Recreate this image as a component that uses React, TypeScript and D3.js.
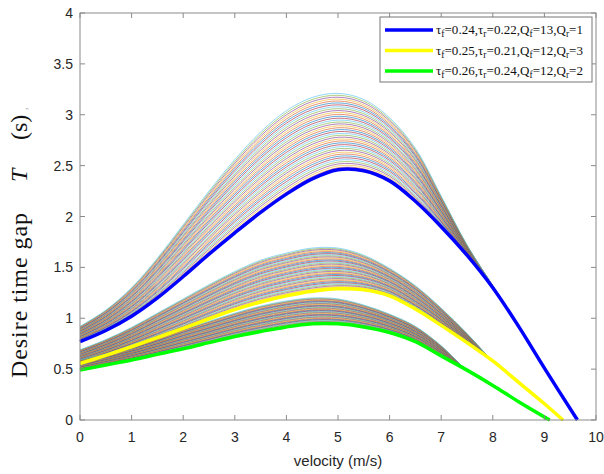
import React from "react";
import * as d3 from "d3";

// ---- data ----
const velocity = [0, 0.5, 1, 1.5, 2, 2.5, 3, 3.5, 4, 4.5, 5, 5.5, 6, 6.5, 7, 7.5, 8, 8.5, 9];

const blueThick = [0.77, 0.88, 1.02, 1.2, 1.41, 1.63, 1.84, 2.04, 2.22, 2.37, 2.46, 2.45, 2.35, 2.15, 1.9, 1.62, 1.3, 0.92, 0.51];
const blueTop = [0.92, 1.08, 1.3, 1.59, 1.92, 2.25, 2.56, 2.83, 3.04, 3.17, 3.21, 3.15, 2.97, 2.67, 2.2, 1.72, 1.32, 0.92, 0.51];
const blueZero = 9.64;

const yellowThick = [0.555, 0.635, 0.72, 0.81, 0.9, 0.995, 1.085, 1.16, 1.22, 1.265, 1.29, 1.28, 1.22, 1.09, 0.93, 0.76, 0.58, 0.37, 0.16];
const yellowTop = [0.69, 0.79, 0.91, 1.05, 1.19, 1.33, 1.46, 1.57, 1.64, 1.69, 1.69, 1.62, 1.49, 1.32, 1.1, 0.85, 0.58, 0.37, 0.16];
const yellowZero = 9.36;

const greenThick = [0.49, 0.54, 0.59, 0.645, 0.7, 0.76, 0.82, 0.87, 0.915, 0.945, 0.945, 0.915, 0.86, 0.77, 0.63, 0.49, 0.34, 0.18, 0.03];
const greenTop = [0.59, 0.65, 0.72, 0.8, 0.89, 0.97, 1.05, 1.12, 1.17, 1.2, 1.19, 1.13, 1.04, 0.92, 0.73, 0.49, 0.34, 0.18, 0.03];
const greenZero = 9.1;

const legendParams = [
  { tf: "0.24", tr: "0.22", qf: "13", qr: "1" },
  { tf: "0.25", tr: "0.21", qf: "12", qr: "3" },
  { tf: "0.26", tr: "0.24", qf: "12", qr: "2" },
];

const xTicks = [0, 1, 2, 3, 4, 5, 6, 7, 8, 9, 10];
const yTicks = [0, 0.5, 1, 1.5, 2, 2.5, 3, 3.5, 4];

const matlabColors = ["#0072BD", "#D95319", "#EDB120", "#7E2F8E", "#77AC30", "#4DBEEE", "#A2142F"];
const thickColors = ["#0000FF", "#FFFF00", "#00FF00"];
const bundleCount = 40;

// ---- layout ----
const W = 604, H = 474;
const left = 80, right = 596, top = 13, bottom = 420;

export default function App() {
  const x = d3.scaleLinear().domain([0, 10]).range([left, right]);
  const y = d3.scaleLinear().domain([0, 4]).range([bottom, top]);
  const line = d3
    .line<[number, number]>()
    .x((d) => x(d[0]))
    .y((d) => y(d[1]))
    .curve(d3.curveCatmullRom.alpha(0.5));

  const groups = [
    { thick: blueThick, top: blueTop, zero: blueZero },
    { thick: yellowThick, top: yellowTop, zero: yellowZero },
    { thick: greenThick, top: greenTop, zero: greenZero },
  ];

  const pts = (vals: number[], zero: number): [number, number][] => [
    ...velocity.map((v, i) => [v, vals[i]] as [number, number]),
    [zero, 0],
  ];

  const thin: JSX.Element[] = [];
  groups.forEach((g, gi) => {
    for (let k = 0; k <= bundleCount; k++) {
      const vals = g.thick.map((b, i) => b + ((g.top[i] - b) * k) / bundleCount);
      thin.push(
        <path
          key={`t${gi}-${k}`}
          d={line(pts(vals, g.zero)) || ""}
          fill="none"
          stroke={matlabColors[k % matlabColors.length]}
          strokeWidth={0.6}
        />
      );
    }
  });

  const axisColor = "#8a8a8a";
  const textColor = "#262626";
  const tickLen = 5;
  const serif = "'Liberation Serif', 'Times New Roman', serif";

  return (
    <svg
      width={W}
      height={H}
      style={{ position: "absolute", left: 0, top: 0, background: "#fff" }}
      xmlns="http://www.w3.org/2000/svg"
    >
      <rect x={0} y={0} width={W} height={H} fill="#fff" />
      {thin}
      {groups.map((g, gi) => (
        <path
          key={`k${gi}`}
          d={line(pts(g.thick, g.zero)) || ""}
          fill="none"
          stroke={thickColors[gi]}
          strokeWidth={3.5}
        />
      ))}

      {/* axes box */}
      <rect x={left} y={top} width={right - left} height={bottom - top} fill="none" stroke={axisColor} strokeWidth={1} />
      {xTicks.map((t) => (
        <g key={`xt${t}`}>
          <line x1={x(t)} x2={x(t)} y1={bottom} y2={bottom - tickLen} stroke={axisColor} />
          <line x1={x(t)} x2={x(t)} y1={top} y2={top + tickLen} stroke={axisColor} />
          <text
            x={x(t)}
            y={442}
            textAnchor="middle"
            fontFamily="'Liberation Sans', Arial, sans-serif"
            fontSize={14}
            fill={textColor}
          >
            {t}
          </text>
        </g>
      ))}
      {yTicks.map((t) => (
        <g key={`yt${t}`}>
          <line x1={left} x2={left + tickLen} y1={y(t)} y2={y(t)} stroke={axisColor} />
          <line x1={right} x2={right - tickLen} y1={y(t)} y2={y(t)} stroke={axisColor} />
          <text
            x={73}
            y={y(t) + 5}
            textAnchor="end"
            fontFamily="'Liberation Sans', Arial, sans-serif"
            fontSize={14}
            fill={textColor}
          >
            {t}
          </text>
        </g>
      ))}

      <text
        x={338}
        y={466}
        textAnchor="middle"
        fontFamily="'Liberation Sans', Arial, sans-serif"
        fontSize={15}
        fill={textColor}
      >
        velocity (m/s)
      </text>

      <g transform="translate(27,378) rotate(-90)" fontFamily={serif} fontSize={24} fill="#111">
        <text x={0} y={0} textLength={165} lengthAdjust="spacing">Desire time gap</text>
        <text x={196} y={0} fontStyle="italic">T</text>
        <text x={238} y={0}>(s)</text>
        <text x={268} y={0} fontSize={10} fill="#999">,</text>
      </g>

      {/* legend */}
      <rect x={380} y={17} width={212} height={65} fill="#fff" stroke="#777" strokeWidth={1} />
      {legendParams.map((p, i) => {
        const ly = 30 + i * 20.5;
        const sub = (s: string) => (
          <>
            <tspan dy={3} fontSize={9.5}>{s}</tspan>
            <tspan dy={-3}>=</tspan>
          </>
        );
        return (
          <g key={`lg${i}`}>
            <line x1={385} x2={433} y1={ly} y2={ly} stroke={thickColors[i]} strokeWidth={3.5} />
            <text
              x={436}
              y={ly + 4}
              fontFamily={serif}
              fontSize={13}
              fill="#111"
              textLength={147}
              lengthAdjust="spacing"
            >
              τ{sub("f")}{p.tf},τ{sub("r")}{p.tr},Q{sub("f")}{p.qf},Q{sub("r")}{p.qr}
            </text>
          </g>
        );
      })}
    </svg>
  );
}
